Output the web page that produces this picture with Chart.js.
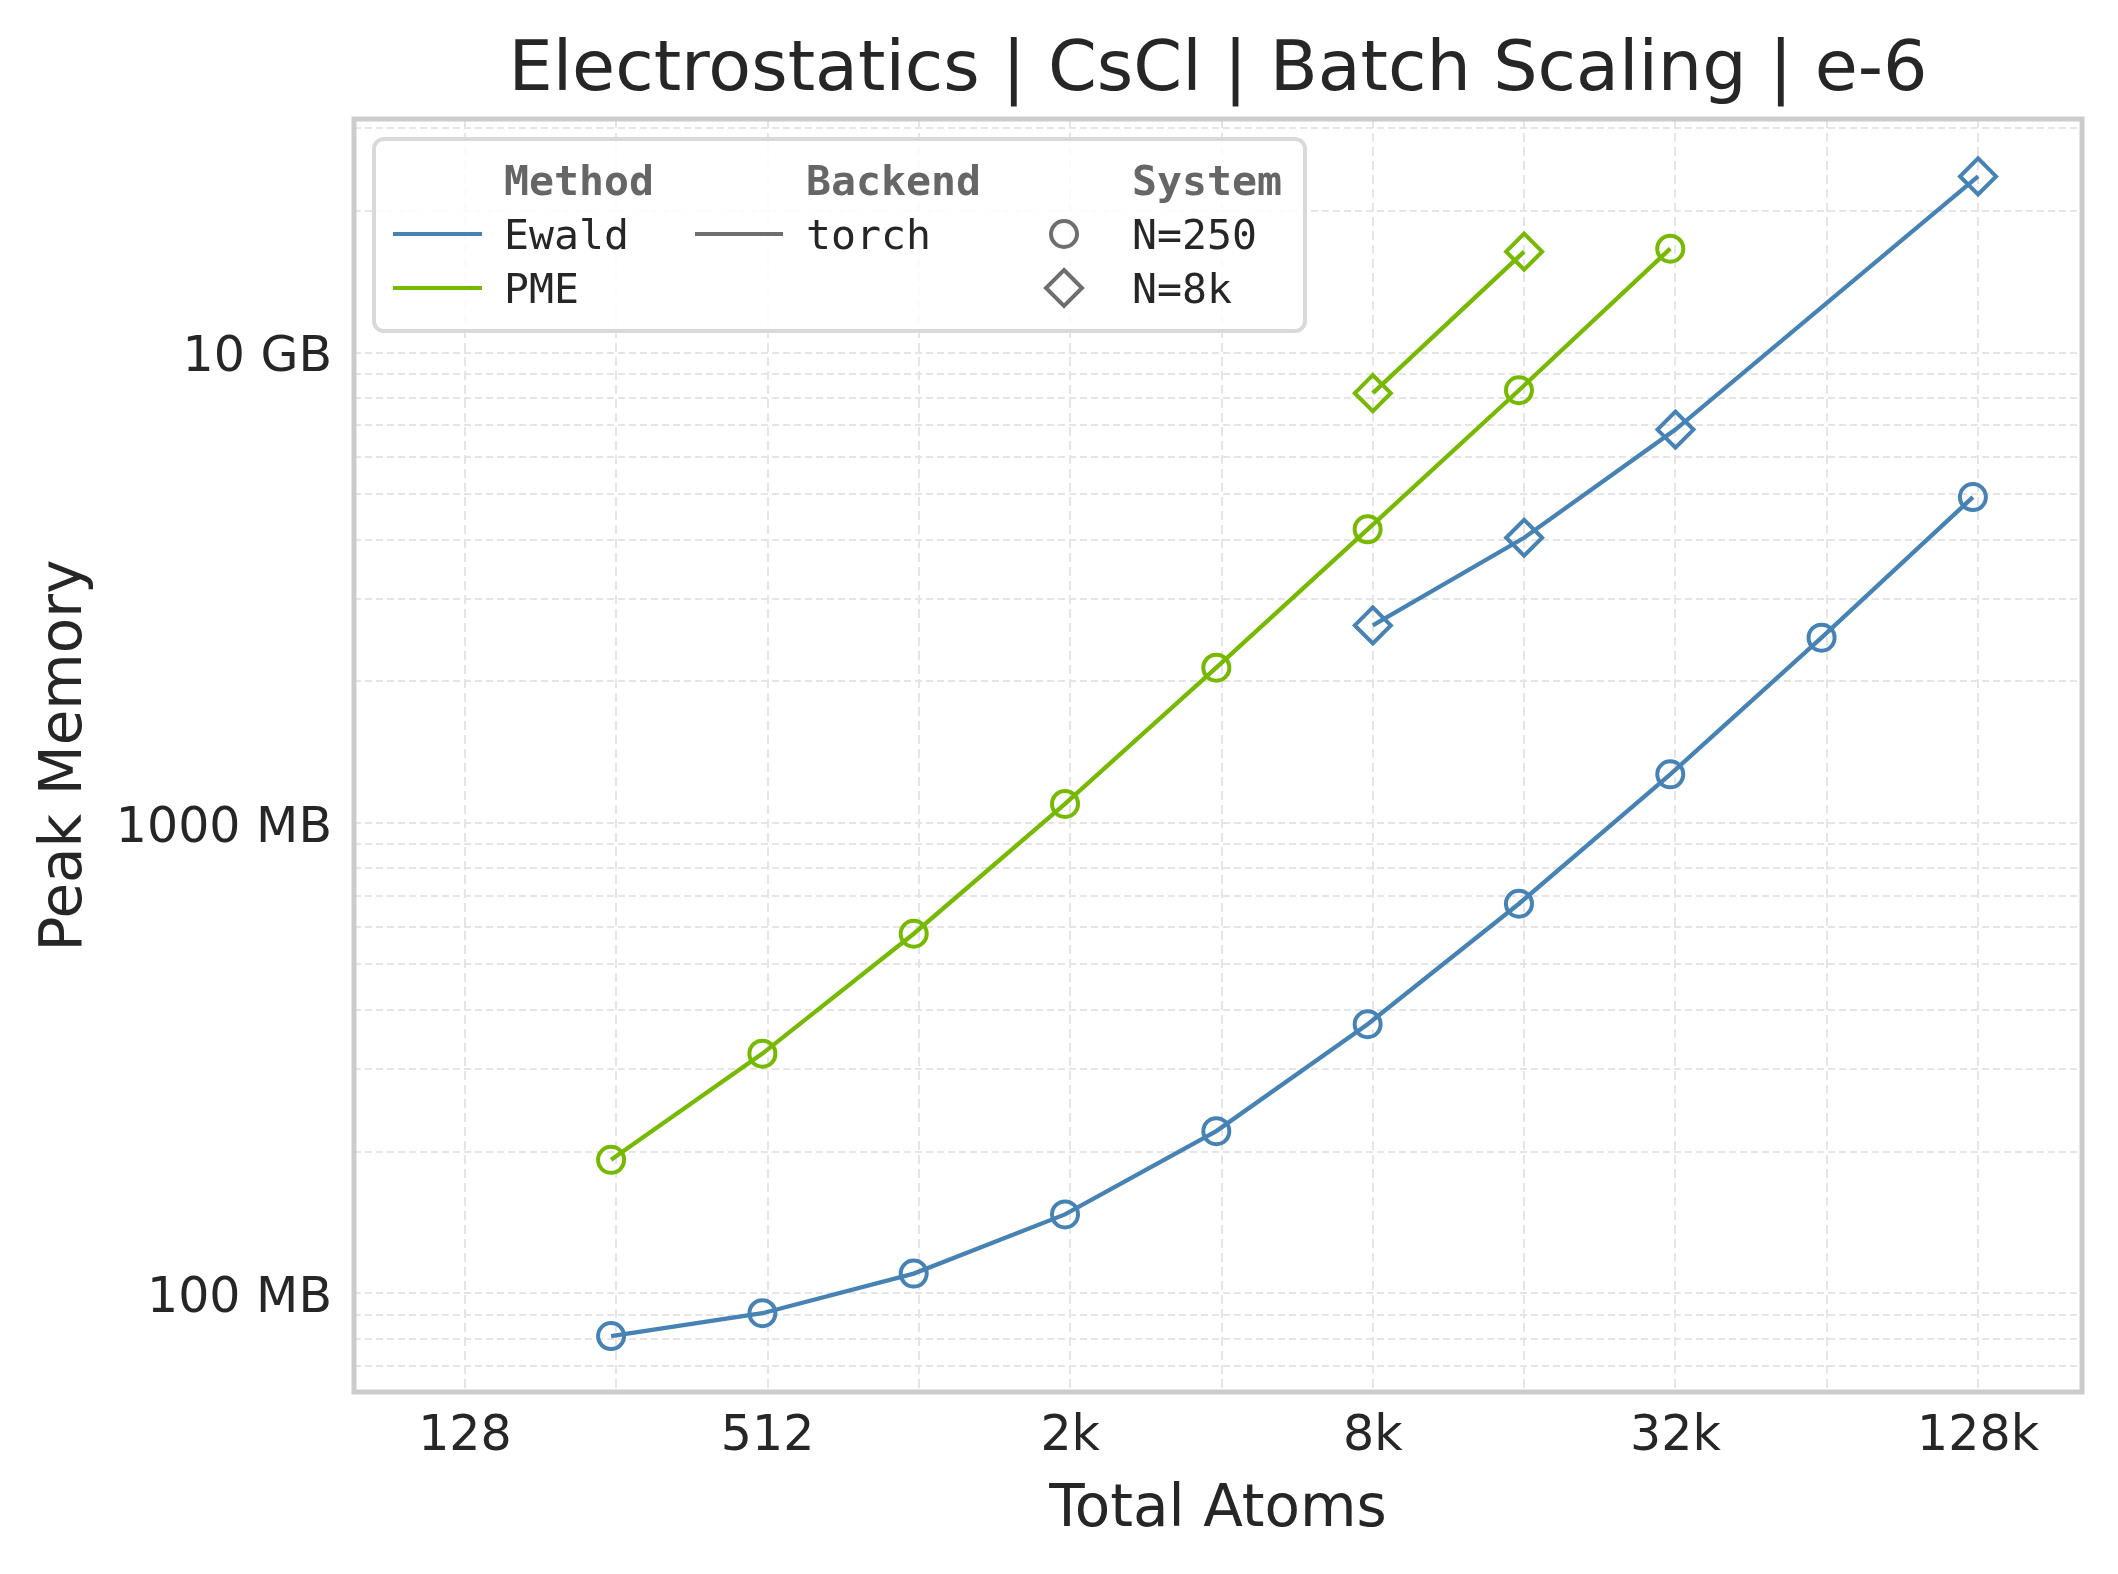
<!DOCTYPE html>
<html>
<head>
<meta charset="utf-8">
<script src="https://cdn.jsdelivr.net/npm/chart.js@4.4.1/dist/chart.umd.min.js"></script>
<style>
  html, body { margin: 0; padding: 0; background: #ffffff; }
  canvas { display: block; }
</style>
</head>
<body>
<canvas id="chart" width="2118" height="1574"></canvas>
<script>
// values (MB)
const atomsN250 = [250, 500, 1000, 2000, 4000, 8000, 16000, 32000, 64000, 128000];
const ewaldN250 = [81, 90.6, 110, 147, 221, 373, 673, 1268, 2477, 4930];
const pmeAtomsN250 = [250, 500, 1000, 2000, 4000, 8000, 16000, 32000];
const pmeN250 = [192, 323, 581, 1097, 2138, 4210, 8318, 16640];

const ewaldAtomsN8k = [8192, 16384, 32768, 131072];
const ewaldN8k = [2630, 4040, 6860, 23700];
const pmeAtomsN8k = [8192, 16384];
const pmeN8k = [8200, 16400];

// ticks
const xGridValues = [128, 256, 512, 1024, 2048, 4096, 8192, 16384, 32768, 65536, 131072];
const xLabelValues = [128, 512, 2048, 8192, 32768, 131072];
const xLabelTexts = ['128', '512', '2k', '8k', '32k', '128k'];
const yGridValues = [70, 80, 90, 100, 200, 300, 400, 500, 600, 700, 800, 900,
  1000, 2000, 3000, 4000, 5000, 6000, 7000, 8000, 9000, 10000, 20000, 30000];
const yLabelValues = [100, 1000, 10000];
const yLabelTexts = ['100 MB', '1000 MB', '10 GB'];

const TITLE = 'Electrostatics | CsCl | Batch Scaling | e-6';
const EWALD = '#4682b4';
const PME = '#76b900';
const INK = '#262626';

function pts(xs, ys) {
  return xs.map((x, i) => ({x: x, y: ys[i]}));
}

function series(label, xs, ys, color, shape) {
  return {
    label: label,
    data: pts(xs, ys),
    borderColor: color,
    borderWidth: 4.3,
    pointStyle: shape,
    pointRadius: shape === 'circle' ? 13 : 18,
    pointBorderWidth: 4,
    pointBorderColor: color,
    pointBackgroundColor: 'rgba(0,0,0,0)',
    fill: false,
    tension: 0
  };
}

// plot frame + title centred over the plot area
const frame = {
  id: 'frame',
  beforeDatasetsDraw(chart) {
    const {ctx, chartArea: a} = chart;
    ctx.save();
    ctx.strokeStyle = '#cccccc';
    ctx.lineWidth = 5;
    ctx.strokeRect(a.left, a.top, a.right - a.left, a.bottom - a.top);
    ctx.font = '70px "DejaVu Sans"';
    ctx.fillStyle = INK;
    ctx.textAlign = 'center';
    ctx.textBaseline = 'alphabetic';
    ctx.fillText(TITLE, (a.left + a.right) / 2, 90);
    ctx.restore();
  }
};

const legendBox = {
  id: 'legendBox',
  afterDraw(chart) {
    const ctx = chart.ctx;
    ctx.save();
    ctx.beginPath();
    ctx.roundRect(374, 139, 931, 192, 10);
    ctx.fillStyle = 'rgba(255,255,255,0.85)';
    ctx.fill();
    ctx.lineWidth = 4;
    ctx.strokeStyle = '#d9d9d9';
    ctx.stroke();

    ctx.textBaseline = 'alphabetic';
    ctx.textAlign = 'left';
    ctx.font = 'bold 41.5px "DejaVu Sans Mono"';
    ctx.fillStyle = '#666666';
    ctx.fillText('Method', 504, 195);
    ctx.fillText('Backend', 806, 195);
    ctx.fillText('System', 1132, 195);

    ctx.font = '41.5px "DejaVu Sans Mono"';
    ctx.fillStyle = INK;
    ctx.fillText('Ewald', 504, 249);
    ctx.fillText('PME', 504, 303);
    ctx.fillText('torch', 806, 249);
    ctx.fillText('N=250', 1132, 249);
    ctx.fillText('N=8k', 1132, 303);

    ctx.lineWidth = 4;
    ctx.lineCap = 'butt';
    const handle = (x0, x1, y, c) => {
      ctx.beginPath();
      ctx.moveTo(x0, y);
      ctx.lineTo(x1, y);
      ctx.strokeStyle = c;
      ctx.stroke();
    };
    handle(393, 482, 234, EWALD);
    handle(393, 482, 288, PME);
    handle(695, 783, 234, '#6e6e6e');

    ctx.strokeStyle = '#6e6e6e';
    ctx.beginPath();
    ctx.arc(1064, 234, 13, 0, Math.PI * 2);
    ctx.stroke();
    ctx.beginPath();
    ctx.moveTo(1064, 288 - 18);
    ctx.lineTo(1064 + 18, 288);
    ctx.lineTo(1064, 288 + 18);
    ctx.lineTo(1064 - 18, 288);
    ctx.closePath();
    ctx.stroke();
    ctx.restore();
  }
};

Chart.defaults.font.family = '"DejaVu Sans"';
Chart.defaults.color = INK;

new Chart(document.getElementById('chart'), {
  type: 'line',
  data: {
    datasets: [
      series('Ewald N=250', atomsN250, ewaldN250, EWALD, 'circle'),
      series('PME N=250', pmeAtomsN250, pmeN250, PME, 'circle'),
      series('Ewald N=8k', ewaldAtomsN8k, ewaldN8k, EWALD, 'rectRot'),
      series('PME N=8k', pmeAtomsN8k, pmeN8k, PME, 'rectRot')
    ]
  },
  options: {
    responsive: false,
    devicePixelRatio: 1,
    animation: false,
    layout: {padding: {left: 0, right: 36, top: 119, bottom: 0}},
    plugins: {
      legend: {display: false},
      tooltip: {enabled: false},
      title: {display: false}
    },
    scales: {
      x: {
        type: 'logarithmic',
        min: 77,
        max: 211000,
        bounds: 'data',
        afterBuildTicks: s => { s.ticks = xGridValues.map(v => ({value: v})); },
        afterFit: s => { s.height = 182; },
        ticks: {
          autoSkip: false,
          maxRotation: 0,
          padding: 16,
          color: INK,
          font: {size: 49},
          callback: v => {
            const i = xLabelValues.indexOf(v);
            return i >= 0 ? xLabelTexts[i] : '';
          }
        },
        grid: {color: '#e5e5e5', lineWidth: 2, drawTicks: false},
        border: {display: false, dash: [9, 5]},
        title: {
          display: true,
          text: 'Total Atoms',
          color: INK,
          font: {size: 58, lineHeight: 1.2},
          padding: {top: 0, bottom: 28}
        }
      },
      y: {
        type: 'logarithmic',
        min: 61.6,
        max: 31400,
        bounds: 'data',
        afterBuildTicks: s => { s.ticks = yGridValues.map(v => ({value: v})); },
        afterFit: s => { s.width = 354; },
        ticks: {
          autoSkip: false,
          padding: 22,
          labelOffset: 6,
          color: INK,
          font: {size: 49},
          callback: v => {
            const i = yLabelValues.indexOf(v);
            return i >= 0 ? yLabelTexts[i] : '';
          }
        },
        grid: {color: '#e5e5e5', lineWidth: 2, drawTicks: false},
        border: {display: false, dash: [7, 4]},
        title: {
          display: true,
          text: 'Peak Memory',
          color: INK,
          font: {size: 58, lineHeight: 1.2},
          padding: {top: 31, bottom: 0}
        }
      }
    }
  },
  plugins: [frame, legendBox]
});
</script>
</body>
</html>
